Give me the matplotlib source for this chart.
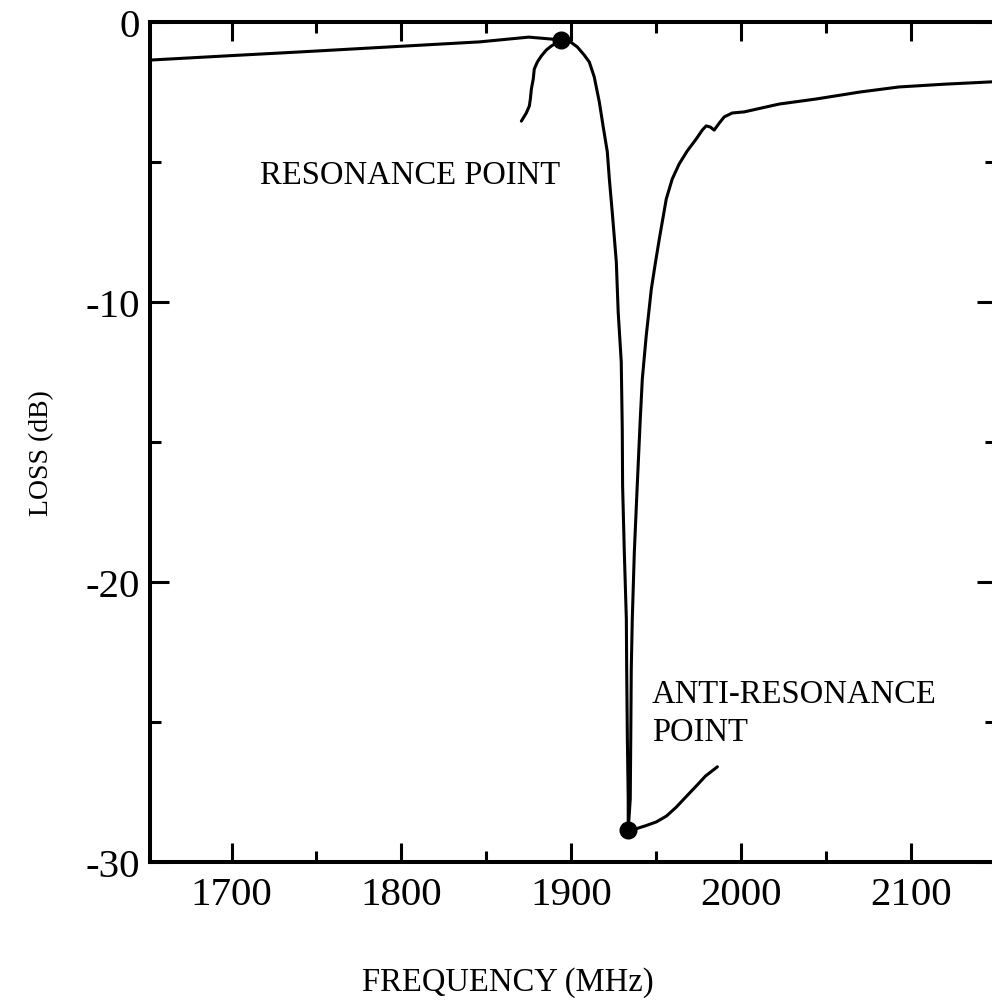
import matplotlib
matplotlib.use("Agg")
import matplotlib.pyplot as plt
from matplotlib.ticker import FixedLocator

plt.rcParams['font.family'] = ['Liberation Serif', 'DejaVu Serif']
plt.rcParams['axes.unicode_minus'] = False

# Main measured curve (MHz, dB)
freq_main = [1652, 1700, 1740, 1790, 1846, 1875, 1894.1,
             1898.8, 1903.5, 1907.6, 1910.6, 1913.5, 1916.5, 1918.8, 1921.2, 1922.4,
             1924.1, 1925.3, 1926.5, 1927.6, 1928.5, 1929.4, 1930.0, 1930.2, 1931.2,
             1932.4, 1932.6, 1933.0, 1933.5, 1933.5,
             1934.7, 1935.0, 1935.3, 1935.9, 1937.1, 1938.8, 1940.6, 1941.8, 1944.1,
             1947.1, 1949.4, 1951.8, 1955.9, 1959.4, 1963.5, 1968.2, 1973.5, 1977.1,
             1979.4, 1981.8, 1984.1, 1987.1, 1990.0, 1994.7, 2001.8, 2022.4, 2044.1,
             2070, 2092.9, 2120, 2150]
loss_main = [-1.36, -1.2, -1.07, -0.9, -0.71, -0.54, -0.64,
             -0.68, -0.89, -1.18, -1.43, -1.96, -2.86, -3.75, -4.64, -5.61,
             -6.79, -7.68, -8.57, -10.36, -11.25, -12.14, -14.54, -16.57, -18.93,
             -21.32, -23.11, -25.6, -27.75, -28.86,
             -27.75, -25.6, -23.11, -21.32, -18.93, -16.57, -14.18, -12.75, -11.21,
             -9.54, -8.64, -7.75, -6.32, -5.61, -5.07, -4.61, -4.18, -3.86,
             -3.71, -3.75, -3.86, -3.61, -3.39, -3.25, -3.21, -2.93, -2.75,
             -2.5, -2.32, -2.22, -2.13]

# Branch below the resonance point
freq_res_branch = [1894.1, 1891.2, 1888.2, 1885.3, 1882.4, 1880.0, 1878.2, 1877.6,
                   1876.5, 1875.9, 1875.3, 1873.5, 1870.6]
loss_res_branch = [-0.64, -0.75, -0.86, -1.0, -1.21, -1.43, -1.68, -2.04,
                   -2.39, -2.75, -3.0, -3.25, -3.54]

# Branch beside the anti-resonance point
freq_anti_branch = [1933.5, 1938.8, 1944, 1950, 1956, 1961.8, 1968, 1973.5, 1979, 1986]
loss_anti_branch = [-28.86, -28.8, -28.7, -28.57, -28.36, -28.04, -27.64, -27.29, -26.93, -26.6]

# Marked points
point_freq = [1894.1, 1933.5]
point_loss = [-0.64, -28.86]

x_major = [1700, 1800, 1900, 2000, 2100]
x_labels = ['1700', '1800', '1900', '2000', '2100']
y_major = [0, -10, -20, -30]
y_labels = ['0', '-10', '-20', '-30']

W, H = 992, 1004
fig = plt.figure(figsize=(W / 100, H / 100), dpi=100)
left_px, right_px, top_px, bot_px = 150, 996, 23, 863
ax = fig.add_axes([left_px / W, 1 - bot_px / H, (right_px - left_px) / W, (bot_px - top_px) / H])

lw = 2.2
kw = dict(color='black', lw=lw, solid_joinstyle='round', solid_capstyle='round')
ax.plot(freq_main, loss_main, **kw)
ax.plot(freq_res_branch, loss_res_branch, **kw)
ax.plot(freq_anti_branch, loss_anti_branch, **kw)
ax.plot(point_freq, point_loss, 'o', color='black', markersize=12, zorder=5)

ax.set_xlim(1652, 2150)
ax.set_ylim(-30, 0)

ax.xaxis.set_major_locator(FixedLocator(x_major))
ax.set_xticklabels(x_labels)
ax.xaxis.set_minor_locator(FixedLocator([1750, 1850, 1950, 2050, 2150]))
ax.yaxis.set_major_locator(FixedLocator(y_major))
ax.set_yticklabels(y_labels)
ax.yaxis.set_minor_locator(FixedLocator([-5, -15, -25]))

ax.tick_params(which='both', direction='in', top=True, right=True, width=2.2, colors='black')
ax.tick_params(which='major', length=14)
ax.tick_params(which='minor', length=8)
ax.tick_params(axis='x', which='major', labelsize=29.5, pad=10)
ax.tick_params(axis='y', which='major', labelsize=29.5, pad=7)

for s in ax.spines.values():
    s.set_linewidth(2.9)

ax.set_xlabel('FREQUENCY (MHz)', fontsize=23.5)
ax.xaxis.set_label_coords((508 - left_px) / (right_px - left_px), (bot_px - 983) / (bot_px - top_px))
ax.xaxis.label.set_verticalalignment('center')
ax.set_ylabel('LOSS (dB)', fontsize=20)
ax.yaxis.set_label_coords((42 - left_px) / (right_px - left_px), (bot_px - 453) / (bot_px - top_px))
ax.yaxis.label.set_verticalalignment('center')

def axfrac(px, py):
    return (px - left_px) / (right_px - left_px), (bot_px - py) / (bot_px - top_px)

ax.text(*axfrac(260, 184), 'RESONANCE POINT', transform=ax.transAxes, fontsize=23.5, ha='left', va='baseline')
ax.text(*axfrac(652, 703), 'ANTI-RESONANCE', transform=ax.transAxes, fontsize=23.5, ha='left', va='baseline')
ax.text(*axfrac(652, 741), 'POINT', transform=ax.transAxes, fontsize=23.5, ha='left', va='baseline')

fig.savefig('out.png', dpi=100)
